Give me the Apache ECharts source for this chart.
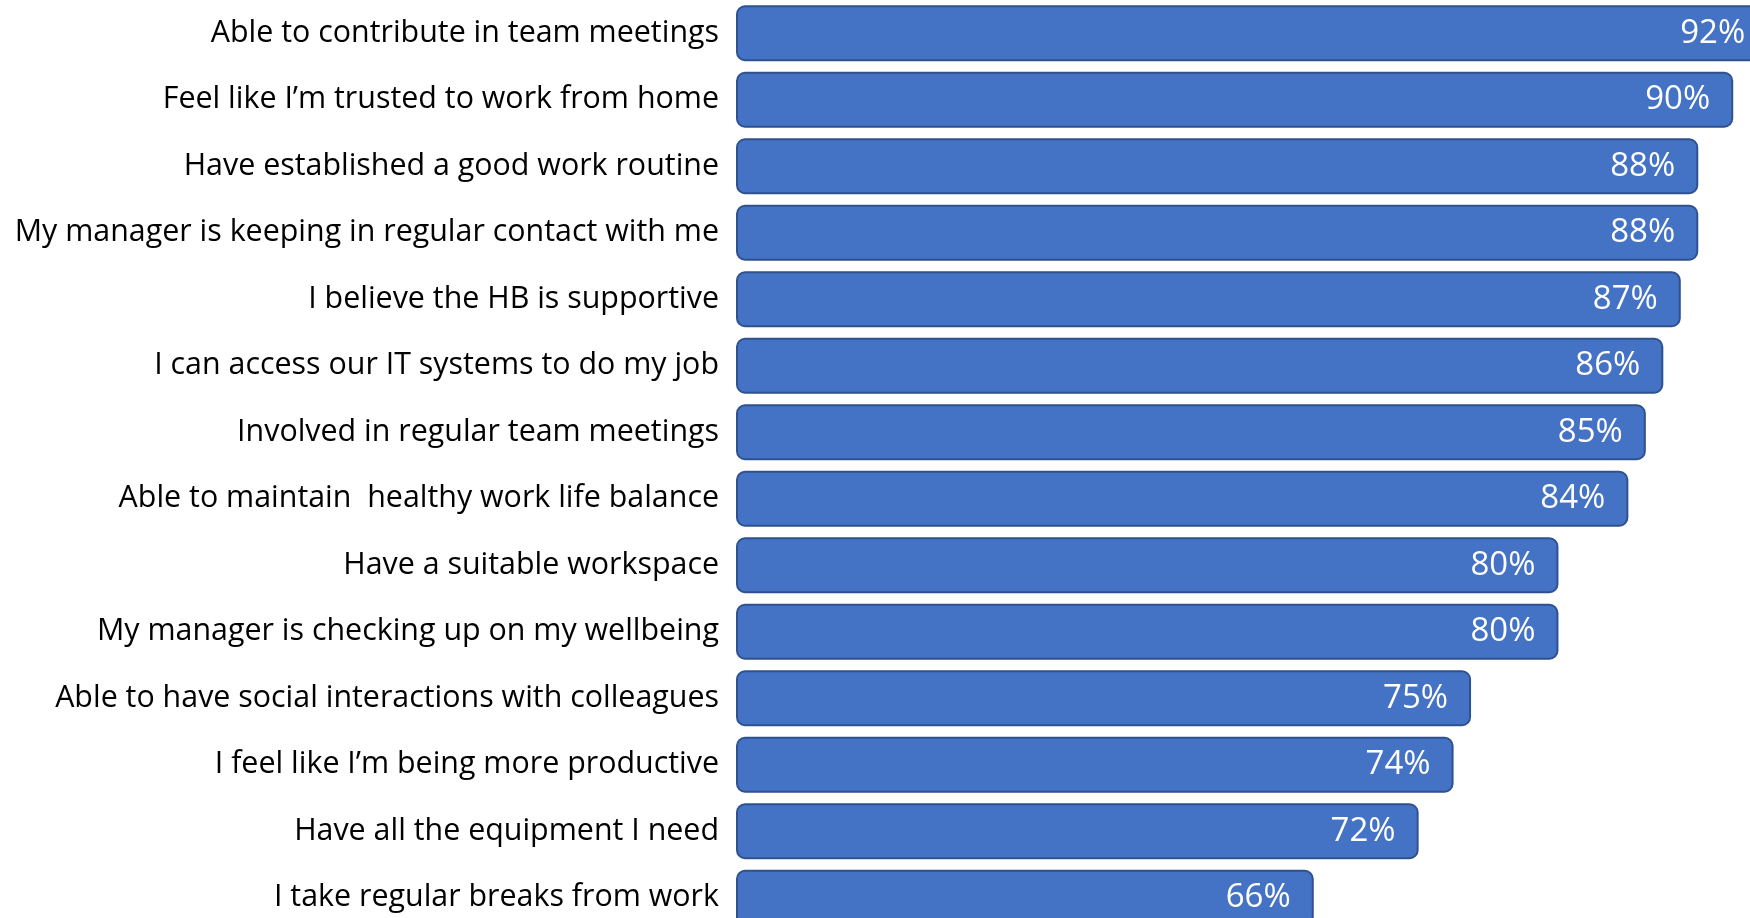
<!DOCTYPE html>
<html>
<head>
<meta charset="utf-8">
<script src="https://cdn.jsdelivr.net/npm/echarts@6/dist/echarts.min.js"></script>
<style>
html,body{margin:0;padding:0;background:#fff;}
#chart{width:1750px;height:918px;}
</style>
</head>
<body>
<div id="chart"></div>
<script>
const categories = [
  "Able to contribute in team meetings",
  "Feel like I\u2019m trusted to work from home",
  "Have established a good work routine",
  "My manager is keeping in regular contact with me",
  "I believe the HB is supportive",
  "I can access our IT systems to do my job",
  "Involved in regular team meetings",
  "Able to maintain  healthy work life balance",
  "Have a suitable workspace",
  "My manager is checking up on my wellbeing",
  "Able to have social interactions with colleagues",
  "I feel like I\u2019m being more productive",
  "Have all the equipment I need",
  "I take regular breaks from work"
];
const values = [92, 90, 88, 88, 87, 86, 85, 84, 80, 80, 75, 74, 72, 66];

const chart = echarts.init(document.getElementById('chart'), null, {renderer: 'canvas'});
chart.setOption({
  backgroundColor: '#ffffff',
  animation: false,
  grid: {left: 737, top: 0, width: 1171, height: 931, containLabel: false, outerBoundsMode: 'none'},
  xAxis: {
    type: 'value', min: 33, max: 100,
    show: false, splitLine: {show: false}
  },
  yAxis: {
    type: 'category', data: categories, inverse: true,
    axisLine: {show: false}, axisTick: {show: false},
    axisLabel: {
      margin: 18, color: '#000000', fontSize: 30.4,
      fontFamily: '"Open Sans", "Noto Sans", sans-serif'
    }
  },
  series: [{
    type: 'bar', data: values, barCategoryGap: '16%',
    itemStyle: {color: '#4472C4', borderColor: '#2F528F', borderWidth: 2, borderRadius: 8},
    label: {
      show: true, position: 'insideRight', distance: 23,
      color: '#ffffff', fontSize: 33,
      fontFamily: '"Open Sans", "Noto Sans", sans-serif',
      formatter: p => p.value + '%'
    }
  }]
});
</script>
</body>
</html>
